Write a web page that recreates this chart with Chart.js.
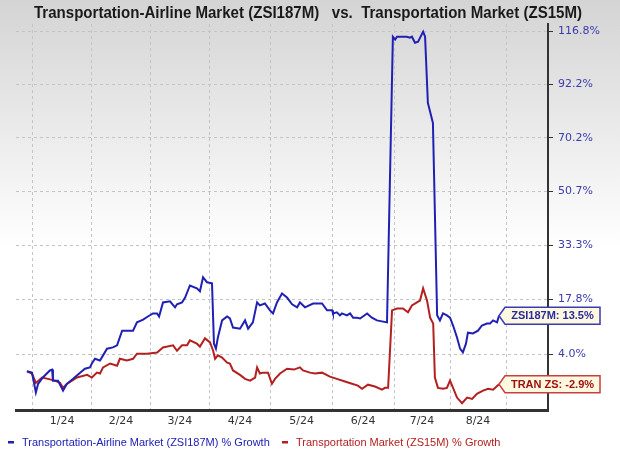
<!DOCTYPE html>
<html><head><meta charset="utf-8">
<script src="https://cdn.jsdelivr.net/npm/chart.js@4.4.1/dist/chart.umd.min.js"></script>
<style>html,body{margin:0;padding:0;background:#fff}#wrap{width:620px;height:450px;position:relative}</style>
</head><body><div id="wrap"><canvas id="c" width="620" height="450"></canvas></div>
<script>
const titleText = "Transportation-Airline Market (ZSI187M)   vs.  Transportation Market (ZS15M)";
const seriesNames = ["Transportation-Airline Market (ZSI187M) % Growth", "Transportation Market (ZS15M) % Growth"];
const endTags = ["ZSI187M", "TRAN ZS"];
const monthLabels = ["1/24","2/24","3/24","4/24","5/24","6/24","7/24","8/24"];
// month boundaries on the trading-day axis
const monthBoundaries = [6, 27, 48, 69, 91, 113, 135, 155, 175];
const yTickValues = [4.0, 17.8, 33.3, 50.7, 70.2, 92.2, 116.8];

const airlineDays = [3.9,5.7,7.1,7.9,9.6,12.1,12.9,13.2,15,16.8,18.2,20.4,22.9,24.6,26.4,27.1,28.2,30,31.1,32.5,34.6,36.1,37.9,40,41.8,43.2,45.4,47.1,48.9,50.4,51.1,52.5,55,56.8,57.5,59.3,60.4,62.1,64.6,65.7,66.8,68.2,70,70.7,71.4,72.1,73.6,75.4,76.4,77.5,80,81.8,82.9,84.6,86.1,87.1,88.9,90.7,91.8,93.2,95,96.8,98.6,100.4,101.4,103.2,106.1,109.3,111.1,112.9,113.2,114.6,115.7,116.4,118.2,119.3,120.4,121.8,122.9,125.4,127.1,128.9,132.5,134.6,135.4,136.1,139.6,140.7,141.4,142.5,143.6,145.4,146.1,147.1,148.9,150.4,151.4,152.5,153.9,155,156.1,157.5,158.6,159.6,160.7,161.4,163.2,165,166.4,168.2,169.3,170.4,171.8,172.5];
const airlineGrowth = [0.0,-0.3,-4.7,-2.8,-1.4,0.2,0.4,-2.1,-2.1,-4.3,-2.8,-1.7,-0.3,0.6,0.9,1.8,2.9,2.5,3.7,5.3,5.6,6.1,9.7,9.7,9.7,11.8,12.5,13.3,14.1,14.1,13.3,17.0,17.3,15.7,16.5,17.0,18.3,21.6,20.8,20.0,23.9,22.5,22.2,6.5,5.3,8.0,12.3,13.3,12.8,10.5,10.2,12.3,10.2,11.8,17.0,16.2,16.7,14.9,14.1,17.0,19.4,18.3,16.5,15.7,17.0,15.7,16.7,16.7,14.9,14.9,14.1,14.4,13.6,14.1,13.6,14.1,13.0,13.0,12.8,14.1,13.0,12.3,11.8,114.3,112.9,114.3,114.3,113.8,114.3,111.4,111.9,116.8,114.3,84.3,76.1,13.6,12.3,14.1,13.6,13.0,11.0,8.0,5.3,4.4,6.5,9.2,9.0,9.7,11.0,11.5,11.5,12.3,11.8,13.5];
const transDays = [3.9,5.7,7.1,9.3,11.4,13.9,15.7,16.8,18.2,21.8,25.4,27.1,28.9,30,31.1,33.6,36.1,37.1,39.6,41.8,43.2,46.8,50.4,52.5,56.1,57.5,59.3,61.1,62.1,64.6,65.7,67.5,69.3,70.4,71.1,72.1,73.6,75.4,76.4,77.5,80,81.8,83.6,85.4,86.1,87.1,88.2,90,91.4,92.5,94.3,96.8,99.3,101.4,102.5,105,106.8,109.3,112.1,114.6,117.5,120,122.1,123.6,125.7,128.2,130.7,131.8,132.9,134.3,136.1,138.2,140,141.4,143.2,144.3,145.4,146.8,147.9,149,149.6,150.7,152.5,153.9,155,156.1,157.5,159.3,161.1,162.9,164.6,166.8,168.6,170.4,172.5];
const transGrowth = [0.0,-0.5,-2.6,-1.4,-1.7,-2.1,-2.6,-3.7,-2.8,-1.4,-0.8,-1.4,-0.3,-0.5,0.9,1.8,1.3,2.9,2.5,2.9,4.1,4.1,4.4,5.6,6.1,4.8,6.1,6.1,7.3,6.5,5.8,7.8,6.8,4.8,2.9,3.7,3.2,2.0,1.8,0.2,-0.8,-1.7,-2.1,-1.4,0.9,-0.5,-0.3,-0.3,-2.8,-1.7,-0.5,0.6,0.4,0.9,0.2,-0.3,-0.5,-0.3,-1.2,-1.7,-2.3,-2.8,-3.2,-3.9,-3.0,-3.4,-4.1,-3.7,-3.7,14.9,15.4,15.4,14.4,16.2,17.0,17.5,20.8,17.5,13.0,11.5,-1.4,-3.7,-3.9,-3.7,-2.1,-3.7,-5.8,-7.0,-5.8,-6.1,-5.0,-4.3,-3.9,-4.1,-2.9];

const BLUE = '#2020b4', RED = '#b42020';
const toPts = (xs, gs) => xs.map((x, i) => ({x: x, y: 100 + gs[i]}));
const monthMids = monthLabels.map((_, i) => (monthBoundaries[i] + monthBoundaries[i + 1]) / 2);

function drawTag(ctx, px, py, text, border, fg) {
  const h = 17, top = py - h / 2, bot = py + h / 2, right = px + 101;
  ctx.beginPath();
  ctx.moveTo(px, py); ctx.lineTo(px + 6, top); ctx.lineTo(right, top);
  ctx.lineTo(right, bot); ctx.lineTo(px + 6, bot); ctx.closePath();
  ctx.fillStyle = '#fdf8e0'; ctx.fill();
  ctx.lineWidth = 1.5; ctx.strokeStyle = border; ctx.stroke();
  ctx.fillStyle = fg; ctx.font = 'bold 11px "Liberation Sans", Arial, sans-serif';
  ctx.textAlign = 'center'; ctx.textBaseline = 'middle';
  ctx.fillText(text, (px + 6 + right) / 2, py + 0.5, 86);
}

const decor = {
  id: 'decor',
  beforeDraw(chart) {
    const {ctx, width, height} = chart;
    const g = ctx.createLinearGradient(0, 0, 0, height);
    g.addColorStop(0, '#d4d4d4'); g.addColorStop(0.55, '#ffffff'); g.addColorStop(1, '#ffffff');
    ctx.save(); ctx.fillStyle = g; ctx.fillRect(0, 0, width, height); ctx.restore();
  },
  afterDraw(chart) {
    const ctx = chart.ctx;
    ctx.save();
    ctx.font = 'bold 16px "Liberation Sans", Arial, sans-serif';
    ctx.fillStyle = '#1a1a1a'; ctx.textAlign = 'left'; ctx.textBaseline = 'middle';
    ctx.fillText(titleText, 34, 14, 548);
    // legend
    ctx.font = '11px "Liberation Sans", Arial, sans-serif';
    ctx.fillStyle = BLUE; ctx.fillRect(8, 441, 6, 2.5);
    ctx.fillText(seriesNames[0], 22, 442.5, 254);
    ctx.fillStyle = RED; ctx.fillRect(282, 441, 6, 2.5);
    ctx.fillText(seriesNames[1], 296, 442.5, 209);
    // end tags
    const lastVals = [airlineGrowth[airlineGrowth.length - 1], transGrowth[transGrowth.length - 1]];
    const borders = ['#3a3ab4', '#c84040'], fgs = ['#2a2a9a', '#a01010'];
    chart.data.datasets.forEach((ds, i) => {
      const meta = chart.getDatasetMeta(i);
      const p = meta.data[meta.data.length - 1];
      drawTag(ctx, p.x, p.y, endTags[i] + ': ' + lastVals[i].toFixed(1) + '%', borders[i], fgs[i]);
    });
    ctx.restore();
  }
};

new Chart(document.getElementById('c'), {
  type: 'line',
  data: {
    datasets: [
      {label: seriesNames[0], data: toPts(airlineDays, airlineGrowth), borderColor: BLUE, borderWidth: 2, pointRadius: 0, tension: 0, fill: false},
      {label: seriesNames[1], data: toPts(transDays, transGrowth), borderColor: RED, borderWidth: 2, pointRadius: 0, tension: 0, fill: false}
    ]
  },
  options: {
    responsive: false, animation: false, devicePixelRatio: 1,
    layout: {padding: {top: 24, left: 16, right: 0, bottom: 18}},
    plugins: {legend: {display: false}, tooltip: {enabled: false}, title: {display: false}},
    scales: {
      x: {
        type: 'linear', position: 'bottom', min: 0, max: 190,
        afterBuildTicks: s => { s.ticks = monthBoundaries.map(v => ({value: v})); },
        ticks: {display: false},
        grid: {color: '#c4c4c4', lineWidth: 1, drawTicks: false},
        border: {display: true, color: '#333333', width: 3, dash: [3, 3]}
      },
      xl: {
        type: 'linear', position: 'bottom', min: 0, max: 190,
        afterBuildTicks: s => { s.ticks = monthMids.map(v => ({value: v})); },
        ticks: {autoSkip: false, maxRotation: 0, padding: 4, color: '#333333',
          font: {family: '"DejaVu Sans", Verdana, sans-serif', size: 11},
          callback: (v, i) => monthLabels[i]},
        grid: {display: false, drawTicks: false},
        border: {display: false}
      },
      y: {
        type: 'logarithmic', position: 'right', min: 91.4, max: 220.6,
        afterBuildTicks: s => { s.ticks = yTickValues.map(v => ({value: 100 + v})); },
        afterFit: s => { s.width = 72; },
        ticks: {color: '#3b3bab', padding: 5, autoSkip: false,
          font: {family: '"DejaVu Sans", Verdana, sans-serif', size: 11},
          callback: v => (v - 100).toFixed(1) + '%'},
        grid: {color: '#c4c4c4', lineWidth: 1, drawTicks: true, tickLength: 5, tickColor: '#333333', tickBorderDash: []},
        border: {display: true, color: '#333333', width: 2, dash: [3, 3]}
      }
    }
  },
  plugins: [decor]
});
</script>
</body></html>
